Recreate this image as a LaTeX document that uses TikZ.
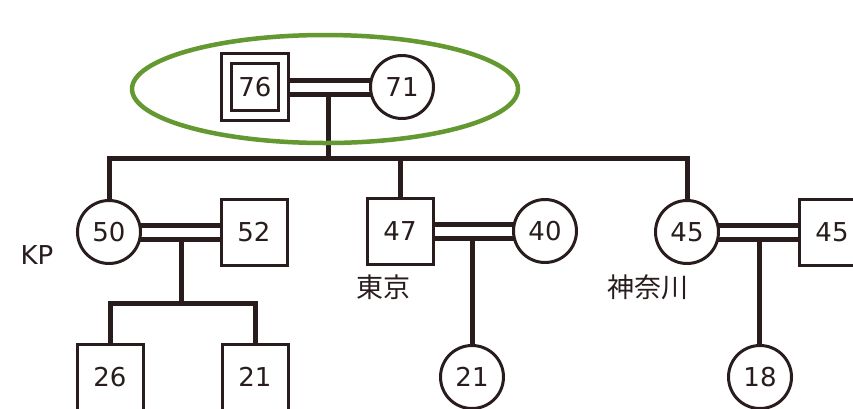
\documentclass[tikz,border=0pt]{standalone}
\usepackage{fontspec}
\setmainfont{DejaVu Sans}
\newfontfamily\jpfont{Noto Sans CJK JP}
\usetikzlibrary{backgrounds,calc}
\definecolor{ink}{RGB}{40,28,28}
\definecolor{leafgreen}{RGB}{100,152,48}
\tikzset{
  person/.style={draw=ink, fill=white, line width=3pt, inner sep=0pt, font=\fontsize{26}{28}\selectfont, text=ink},
  male/.style={person, rectangle, minimum size=66pt},
  female/.style={person, circle, minimum size=63pt},
  selfmale/.style={person, rectangle, minimum size=57pt, double=white, double distance=7pt},
  link/.style={draw=ink, line width=5pt},
  place/.style={font=\jpfont\fontsize{27}{29}\selectfont, text=ink},
  tag/.style={font=\fontsize{26}{28}\selectfont, text=ink}
}
\begin{document}
\begin{tikzpicture}[x=1pt,y=-1pt]
\clip (0,0) rectangle (853,408);
% generation 1
\node[selfmale] (g76) at (255,87) {76};
\node[female] (g71) at (402,87) {71};
\draw[leafgreen, line width=4.5pt] (325,89) ellipse [x radius=193, y radius=54];
% generation 2
\node[female] (c50) at (109,232) {50};
\node[male] (c52) at (254,232) {52};
\node[male] (c47) at (400,231) {47};
\node[female] (c40) at (545,231) {40};
\node[female] (c45f) at (687,232) {45};
\node[male] (c45m) at (832,232) {45};
% generation 3
\node[male] (k26) at (110,377) {26};
\node[male] (k21) at (255,377) {21};
\node[female] (k21f) at (472,377) {21};
\node[female] (k18) at (760,377) {18};
% labels
\node[tag] (lkp) at (37,255) {KP};
\node[place] (ltokyo) at (383,287) {東京};
\node[place] (lkana) at (648,287) {神奈川};
% junction coordinates
\coordinate (m0) at ($(g76)!0.5!(g71)+(0,7)$);
\coordinate (j0) at (m0 |- 0,158);
\coordinate (m1) at ($(c50)!0.5!(c52)+(0,7)$);
\coordinate (j1) at (m1 |- 0,303);
\coordinate (m2) at ($(c47)!0.5!(c40)+(0,7)$);
\coordinate (m3) at ($(c45f)!0.5!(c45m)+(0,7)$);
\begin{scope}[on background layer]
\fill[white] (0,0) rectangle (853,408);
\foreach \a/\b in {g76/g71, c50/c52, c47/c40, c45f/c45m}{
  \draw[link] ([yshift=7pt]\a.center) -- ([yshift=7pt]\b.center);
  \draw[link] ([yshift=-7pt]\a.center) -- ([yshift=-7pt]\b.center);
}
\draw[link] (m0) -- (j0);
\draw[link] (c50.center) |- (j0) -| (c45f.center);
\draw[link] (j0) -| (c47.center);
\draw[link] (m1) -- (j1);
\draw[link] (k26.center) |- (j1) -| (k21.center);
\draw[link] (m2) -- (m2 |- k21f.center);
\draw[link] (m3) -- (m3 |- k18.center);
\end{scope}
\end{tikzpicture}
\end{document}
